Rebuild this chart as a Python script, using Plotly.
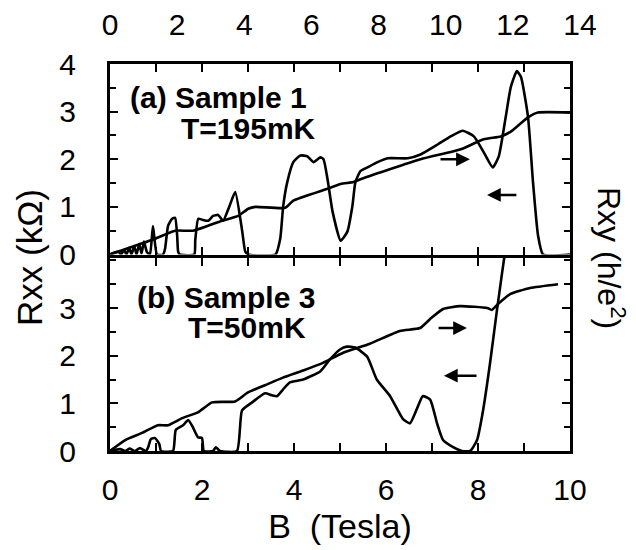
import plotly.graph_objects as go

# ---------------- Panel (a) Sample 1, T=195mK  (top scale, Tesla 0-14) ----------------
a_rxx_B = [0.00, 0.24, 0.33, 0.42, 0.49, 0.57, 0.64, 0.72, 0.79, 0.87, 0.94, 1.01, 1.10, 1.19,
           1.28, 1.40, 1.58, 1.64, 1.73, 1.85, 1.94, 2.00, 2.03, 2.08, 2.51, 2.54, 2.63, 2.75,
           2.93, 3.07, 3.22, 3.37, 3.55, 3.73, 3.94, 4.03, 4.12, 4.93, 5.07, 5.16, 5.28, 5.46,
           5.67, 5.88, 6.06, 6.27, 6.36, 6.48, 6.63, 6.87, 7.07, 7.22, 7.31, 7.46, 7.67, 7.97,
           8.27, 8.87, 9.25, 9.76, 10.15, 10.51, 10.84, 11.13, 11.40, 11.58, 11.79, 11.94,
           12.12, 12.24, 12.45, 12.60, 12.75, 12.90, 13.70]
a_rxx = [0.00, 0.06, 0.00, 0.10, 0.00, 0.14, 0.00, 0.18, 0.00, 0.22, 0.02, 0.27, 0.05, 0.00,
         0.60, 0.00, 0.00, 0.12, 0.60, 0.75, 0.77, 0.40, 0.06, 0.00, 0.00, 0.30, 0.75, 0.73,
         0.71, 0.81, 0.83, 0.71, 1.00, 1.31, 0.48, 0.06, 0.00, 0.00, 0.33, 1.02, 1.52, 1.94,
         2.08, 2.06, 1.94, 2.04, 2.00, 1.58, 0.90, 0.29, 0.48, 1.02, 1.52, 1.75, 1.83, 1.94,
         2.02, 2.02, 2.10, 2.31, 2.48, 2.60, 2.48, 2.15, 1.83, 2.06, 2.90, 3.52,
         3.85, 3.73, 2.90, 1.52, 0.40, 0.00, 0.00]

a_rxy_B = [0.00, 1.34, 1.94, 2.48, 3.34, 3.82, 4.12, 4.33, 5.22, 5.46, 6.48, 6.87, 7.25, 7.46,
           9.25, 10.45, 11.13, 11.64, 11.94, 12.45, 12.75, 13.70]
a_rxy = [0.00, 0.33, 0.50, 0.50, 0.71, 0.81, 0.96, 1.00, 0.98, 1.13, 1.38, 1.48, 1.52, 1.58,
         2.00, 2.21, 2.42, 2.48, 2.58, 2.88, 2.98, 2.98]

# ---------------- Panel (b) Sample 3, T=50mK  (bottom scale, Tesla 0-10) ----------------
b_rxx_B = [0.00, 0.22, 0.33, 0.43, 0.54, 0.65, 0.78, 0.83, 0.89, 0.98, 1.07, 1.11, 1.37, 1.43,
           1.59, 1.70, 1.80, 1.91, 2.00, 2.04, 2.24, 2.30, 2.39, 2.76, 2.87, 3.09, 3.37, 3.52,
           3.63, 3.76, 3.91, 4.20, 4.57, 4.78, 5.00, 5.15, 5.33, 5.59, 5.80, 6.09, 6.37, 6.52,
           6.67, 6.80, 6.96, 7.11, 7.24, 7.46, 7.65, 7.83, 7.98, 8.11, 8.26, 8.41, 8.52, 8.59, 8.65]
b_rxx = [0.00, 0.04, 0.00, 0.05, 0.00, 0.06, 0.00, 0.08, 0.25, 0.27, 0.15, 0.00, 0.00, 0.44,
         0.54, 0.65, 0.50, 0.29, 0.27, 0.00, 0.00, 0.08, 0.00, 0.00, 0.85, 1.02, 1.21, 1.17,
         1.15, 1.29, 1.44, 1.50, 1.67, 1.92, 2.13, 2.19, 2.17, 1.98, 1.50, 1.15, 0.67, 0.58,
         0.88, 1.15, 1.08, 0.58, 0.23, 0.08, 0.00, 0.00, 0.23, 0.85, 1.83, 2.94, 3.71, 4.19, 4.60]

b_rxy_B = [0.00, 0.33, 0.70, 1.04, 1.26, 1.57, 1.91, 2.22, 2.72, 3.00, 3.37, 3.76, 4.20, 4.63,
           5.07, 5.65, 6.30, 6.74, 6.96, 7.24, 7.61, 8.20, 8.30, 8.43, 8.70, 9.13, 9.74]
b_rxy = [0.00, 0.23, 0.38, 0.54, 0.54, 0.69, 0.81, 1.02, 1.04, 1.23, 1.38, 1.54, 1.69, 1.85,
         2.06, 2.25, 2.52, 2.58, 2.77, 2.98, 3.04, 3.00, 2.96, 3.08, 3.29, 3.42, 3.50]

top_ticks = [0, 2, 4, 6, 8, 10, 12, 14]
bottom_ticks = [0, 2, 4, 6, 8, 10]

FONT = "Liberation Sans, Arial, Helvetica, sans-serif"
LW = 2.6

fig = go.Figure()
line = dict(color="black", width=LW, shape="spline", smoothing=0.5)
fig.add_trace(go.Scatter(x=a_rxx_B, y=a_rxx, mode="lines", line=line, xaxis="x3", yaxis="y", showlegend=False))
fig.add_trace(go.Scatter(x=a_rxy_B, y=a_rxy, mode="lines", line=line, xaxis="x3", yaxis="y", showlegend=False))
fig.add_trace(go.Scatter(x=[], y=[], mode="lines", xaxis="x2", yaxis="y", showlegend=False))
fig.add_trace(go.Scatter(x=b_rxx_B, y=b_rxx, mode="lines", line=line, xaxis="x", yaxis="y2", showlegend=False))
fig.add_trace(go.Scatter(x=b_rxy_B, y=b_rxy, mode="lines", line=line, xaxis="x", yaxis="y2", showlegend=False))

# the page body adds an 8px offset; all screen positions below are page pixels
PW, PH = 470, 387          # plot area (page px): x 110..580, y 64..451
BOX = 460 / PW
TOP_LO = (451 - 254.5) / PH
BOT_HI = (451 - 257.5) / PH

common_ax = dict(showline=True, linewidth=3, linecolor="black", mirror="ticks",
                 ticks="inside", tickwidth=2, tickcolor="black", ticklen=8,
                 showgrid=False, zeroline=False, automargin=False)

fig.update_layout(
    width=628, height=542,
    margin=dict(l=102, r=56, t=56, b=99),
    paper_bgcolor="white", plot_bgcolor="rgba(0,0,0,0)",
    font=dict(family=FONT, color="black", size=30),
    xaxis=dict(**common_ax, domain=[0, BOX], anchor="y2", range=[0, 10],
               tickvals=bottom_ticks, ticklabelstandoff=10,
               minor=dict(dtick=1, ticks="inside", ticklen=8, tickwidth=2, tickcolor="black"),
               tickfont=dict(size=30),
               title=dict(text="B  (Tesla)", font=dict(size=34), standoff=10)),
    xaxis2=dict(**common_ax, domain=[0, BOX], anchor="y", range=[0, 10], dtick=1,
                showticklabels=False),
    xaxis3=dict(domain=[0, 1], anchor="y", side="top", range=[0, 14],
                tickvals=top_ticks, ticks="", showline=False, showgrid=False,
                zeroline=False, tickfont=dict(size=30), ticklabelstandoff=22,
                automargin=False),
    yaxis=dict(**common_ax, domain=[TOP_LO, 1], anchor="x2", range=[0, 4],
               tickvals=[0, 1, 2, 3, 4], ticklabelstandoff=25,
               minor=dict(dtick=0.5, ticks="inside", ticklen=6, tickwidth=2, tickcolor="black"),
               tickfont=dict(size=30)),
    yaxis2=dict(**common_ax, domain=[0, BOT_HI], anchor="x", range=[0, 4.06],
                tickvals=[0, 1, 2, 3], ticklabelstandoff=25,
                minor=dict(dtick=0.5, ticks="inside", ticklen=6, tickwidth=2, tickcolor="black"),
                tickfont=dict(size=30)),
)

def px2paper(px, py):
    return (px - 110) / PW, (451 - py) / PH

annots = []
for text, cx, cy in [("<b>(a) Sample 1</b>", 218, 97), ("<b>T=195mK</b>", 248, 128),
                     ("<b>(b) Sample 3</b>", 226, 297), ("<b>T=50mK</b>", 247, 327)]:
    x, y = px2paper(cx, cy)
    annots.append(dict(text=text, x=x, y=y, xref="paper", yref="paper", showarrow=False,
                       xanchor="center", yanchor="middle", font=dict(size=30)))

x, y = px2paper(30, 258)
annots.append(dict(text="Rxx (kΩ)", x=x, y=y, xref="paper", yref="paper", showarrow=False,
                   textangle=-90, xanchor="center", yanchor="middle", font=dict(size=35)))
x, y = px2paper(611, 258)
annots.append(dict(text="Rxy (h/e<sup>2</sup>)", x=x, y=y, xref="paper", yref="paper",
                   showarrow=False, textangle=90, xanchor="center", yanchor="middle",
                   font=dict(size=32)))

# direction arrows (tip, tail) in data units
arrows = [("x3", "y", 10.72, 2.00, 9.80, 2.00),
          ("x3", "y", 11.23, 1.25, 12.15, 1.25),
          ("x", "y2", 7.76, 2.58, 7.11, 2.58),
          ("x", "y2", 7.26, 1.58, 8.00, 1.58)]
for xr, yr, tx, ty, sx, sy in arrows:
    annots.append(dict(x=tx, y=ty, ax=sx, ay=sy, xref=xr, yref=yr, axref=xr, ayref=yr,
                       text="", showarrow=True, arrowhead=2, arrowsize=1.1, arrowwidth=2.5,
                       arrowcolor="black"))

fig.update_layout(annotations=annots)
fig.write_html("out.html")
